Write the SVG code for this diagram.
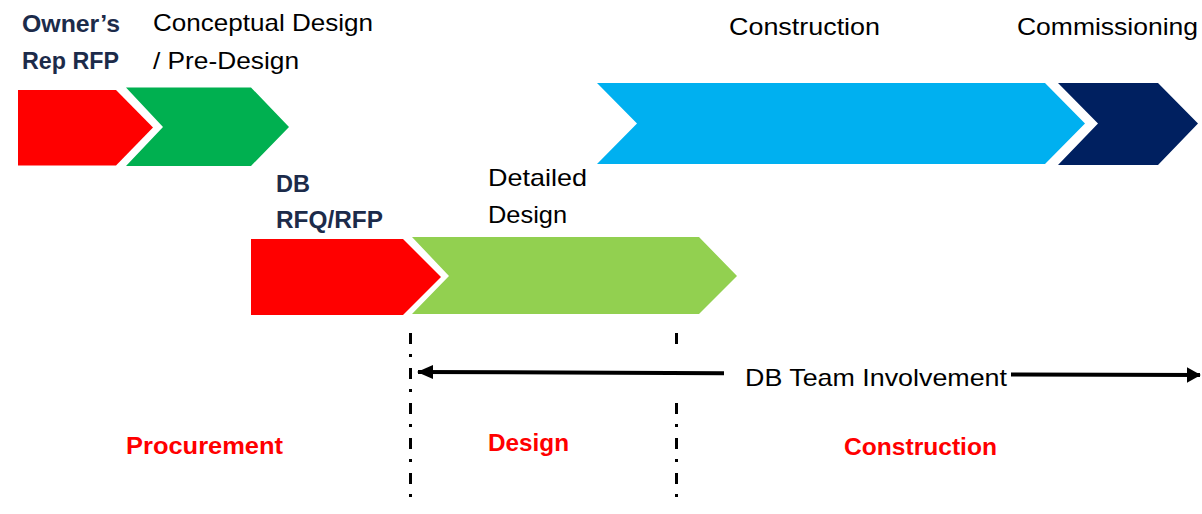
<svg xmlns="http://www.w3.org/2000/svg" width="1202" height="514" viewBox="0 0 1202 514">
  <defs>
    <style>
      text { font-family: "Liberation Sans", Arial, sans-serif; font-size: 24px; }
      .lbl { fill: #000000; }
      .head { fill: #1c2b4a; font-weight: bold; }
      .phase { fill: #ff0000; font-weight: bold; }
      .divider { fill: none; stroke: #000000; stroke-width: 3; stroke-dasharray: 11 10 3 11; }
      .span { fill: none; stroke: #000000; stroke-width: 4; }
    </style>
    <marker id="arrowStart" viewBox="0 0 16 16" refX="1" refY="8" markerWidth="4" markerHeight="4" markerUnits="strokeWidth" orient="auto">
      <path d="M16,1 L0,8 L16,15 Z" fill="#000000"/>
    </marker>
    <marker id="arrowEnd" viewBox="0 0 16 18" refX="15" refY="9" markerWidth="3.5" markerHeight="4.5" markerUnits="strokeWidth" orient="auto">
      <path d="M0,0 L16,9 L0,18 Z" fill="#000000"/>
    </marker>
  </defs>

  <rect width="1202" height="514" fill="#ffffff"/>

  <!-- Owner's Rep RFP -->
  <g id="owners-rep-rfp">
    <path d="M18,90 L116,90 L153,127.5 L116,165.5 L18,165.5 Z" fill="#ff0000"/>
    <text class="head" x="22" y="32" textLength="98" lengthAdjust="spacingAndGlyphs">Owner’s</text>
    <text class="head" x="22" y="69" textLength="97" lengthAdjust="spacingAndGlyphs">Rep RFP</text>
  </g>

  <!-- Conceptual Design / Pre-Design -->
  <g id="conceptual-design">
    <path d="M126,87.5 L251,87.5 L289,127 L251,166 L126,166 L163,127 Z" fill="#00b050"/>
    <text class="lbl" x="153" y="31" textLength="220" lengthAdjust="spacingAndGlyphs">Conceptual Design</text>
    <text class="lbl" x="153" y="69" textLength="146" lengthAdjust="spacingAndGlyphs">/ Pre-Design</text>
  </g>

  <!-- Construction -->
  <g id="construction">
    <path d="M597,83 L1045,83 L1085,123.5 L1045,164 L597,164 L637,123.5 Z" fill="#00b0f0"/>
    <text class="lbl" x="729" y="35" textLength="151" lengthAdjust="spacingAndGlyphs">Construction</text>
  </g>

  <!-- Commissioning -->
  <g id="commissioning">
    <path d="M1058,83 L1158,83 L1198,123.5 L1158,165 L1058,165 L1098,123.5 Z" fill="#002060"/>
    <text class="lbl" x="1017" y="35" textLength="181" lengthAdjust="spacingAndGlyphs">Commissioning</text>
  </g>

  <!-- DB RFQ/RFP -->
  <g id="db-rfq-rfp">
    <path d="M251,239 L403,239 L441,277 L403,315 L251,315 Z" fill="#ff0000"/>
    <text class="head" x="276" y="192" textLength="34" lengthAdjust="spacingAndGlyphs">DB</text>
    <text class="head" x="276" y="228" textLength="107" lengthAdjust="spacingAndGlyphs">RFQ/RFP</text>
  </g>

  <!-- Detailed Design -->
  <g id="detailed-design">
    <path d="M412,237 L699,237 L737,276 L699,314 L412,314 L449,276 Z" fill="#92d050"/>
    <text class="lbl" x="488" y="186" textLength="99" lengthAdjust="spacingAndGlyphs">Detailed</text>
    <text class="lbl" x="488" y="223" textLength="79" lengthAdjust="spacingAndGlyphs">Design</text>
  </g>

  <!-- phase dividers and DB team span -->
  <g id="connectors">
    <line class="divider" x1="410.5" y1="333" x2="410.5" y2="498"/>
    <line class="divider" x1="676.5" y1="333" x2="676.5" y2="346"/>
    <line class="divider" x1="676.5" y1="403" x2="676.5" y2="498" style="stroke-dashoffset: 0"/>
    <path class="span" d="M418,372 L724,373.2" marker-start="url(#arrowStart)"/>
    <path class="span" d="M1011,374.4 L1200,375" marker-end="url(#arrowEnd)"/>
  </g>

  <g id="db-team-label">
    <text class="lbl" x="745" y="386" textLength="262" lengthAdjust="spacingAndGlyphs">DB Team Involvement</text>
  </g>

  <!-- phase names -->
  <g id="phase-procurement">
    <text class="phase" x="126" y="454" textLength="157" lengthAdjust="spacingAndGlyphs">Procurement</text>
  </g>
  <g id="phase-design">
    <text class="phase" x="488" y="451" textLength="81" lengthAdjust="spacingAndGlyphs">Design</text>
  </g>
  <g id="phase-construction">
    <text class="phase" x="844" y="455" textLength="153" lengthAdjust="spacingAndGlyphs">Construction</text>
  </g>
</svg>
